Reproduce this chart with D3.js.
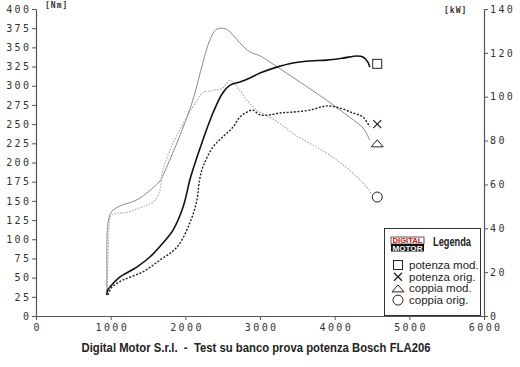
<!DOCTYPE html>
<html>
<head>
<meta charset="utf-8">
<script src="https://cdn.jsdelivr.net/npm/d3@7"></script>
<style>
  body { margin: 0; background: #fff; }
  .tick text { font-family: "DejaVu Sans Mono", monospace; font-size: 10px; fill: #333; letter-spacing: 2.4px; }
  .tick line, .domain { stroke: #555; }
</style>
</head>
<body>
<div id="chart"></div>
<script>
var svgWidth = 520;
var svgHeight = 367;

// rpm / value pairs
var potModRpm = [946, 964, 990, 1125, 1350, 1525, 1700, 1835, 1970, 2060, 2100, 2235, 2370, 2500, 2600, 2730, 2865, 3000, 3225, 3440, 3670, 3895, 4110, 4300, 4380, 4445, 4470];
var potModKw = [9.6, 11.9, 13.2, 17.8, 22.3, 26.9, 33.3, 39.2, 49.7, 62.0, 66.6, 80.3, 92.6, 101.7, 105.3, 106.7, 108.5, 110.8, 113.5, 115.4, 116.3, 116.7, 117.6, 118.6, 118.1, 115.8, 113.5];

var potOrigRpm = [964, 1017, 1165, 1430, 1660, 1890, 2060, 2155, 2190, 2235, 2370, 2500, 2640, 2730, 2825, 2905, 3000, 3130, 3265, 3440, 3670, 3895, 4070, 4245, 4380, 4470];
var potOrigKw = [9.6, 13.2, 16.4, 20.1, 25.5, 31.5, 42.4, 52.9, 62.0, 67.9, 77.1, 81.6, 86.2, 90.7, 93.0, 93.9, 91.7, 91.7, 92.6, 93.0, 93.9, 95.8, 94.8, 92.6, 90.7, 86.2];

var copModRpm = [946, 950, 950, 964, 990, 1030, 1100, 1165, 1300, 1430, 1565, 1660, 1790, 1955, 2100, 2235, 2330, 2410, 2490, 2545, 2600, 2730, 2865, 3000, 3130, 3440, 3895, 4200, 4380, 4470];
var copModNm = [27, 47, 99, 121, 132, 138, 142, 145, 149, 156, 167, 176, 203, 242, 281, 330, 360, 373, 375, 374, 370, 356, 344, 339, 331, 311, 281, 259, 245, 229];

var copOrigRpm = [950, 964, 977, 990, 1017, 1085, 1220, 1390, 1500, 1595, 1660, 1700, 1835, 2020, 2155, 2235, 2370, 2500, 2600, 2730, 2825, 2960, 3130, 3265, 3440, 3895, 4200, 4430, 4500];
var copOrigNm = [27, 73, 112, 128, 132, 134, 135, 141, 145, 151, 164, 190, 225, 259, 281, 291, 294, 297, 307, 294, 281, 268, 259, 251, 238, 212, 190, 168, 158];

// end markers
var markerRpm = 4570;
var markerPotMod = 115;
var markerPotOrig = 87.5;
var markerCopMod = 225;
var markerCopOrig = 155;

var legendLabels = ["potenza mod.", "potenza orig.", "coppia mod.", "coppia orig."];

var rpmTicks = d3.range(0, 6001, 1000);
var nmTicks = d3.range(0, 401, 25);
var kwTicks = d3.range(0, 141, 20);

var svg = d3.select("#chart")
  .append("svg")
  .attr("width", svgWidth)
  .attr("height", svgHeight);

var x = d3.scaleLinear().domain([0, 6000]).range([36, 484]);
var yNm = d3.scaleLinear().domain([0, 400]).range([316, 9]);
var yKw = d3.scaleLinear().domain([0, 140]).range([316, 9]);

// axes
svg.append("g")
  .attr("transform", "translate(36,0)")
  .call(d3.axisLeft(yNm).tickValues(nmTicks).tickFormat(d3.format("d")).tickSize(4).tickSizeOuter(0).tickPadding(3))
  .selectAll("text").attr("dx", "2.4px");

svg.append("g")
  .attr("transform", "translate(484,0)")
  .call(d3.axisRight(yKw).tickValues(kwTicks).tickFormat(d3.format("d")).tickSize(4).tickSizeOuter(0).tickPadding(2));

svg.append("g")
  .attr("transform", "translate(0,316)")
  .call(d3.axisBottom(x).tickValues(rpmTicks).tickFormat(d3.format("d")).tickSize(4).tickSizeOuter(0).tickPadding(4))
  .selectAll("text").attr("dx", "1.2px");

svg.selectAll(".domain").attr("stroke-width", 1.2);

// units
svg.append("text")
  .attr("x", 45).attr("y", 8)
  .style("font-family", "DejaVu Sans Mono").style("font-size", "8px").style("font-weight", "bold")
  .style("letter-spacing", "1px").attr("fill", "#333")
  .text("[Nm]");

svg.append("text")
  .attr("x", 444).attr("y", 13)
  .style("font-family", "DejaVu Sans Mono").style("font-size", "8px").style("font-weight", "bold")
  .style("letter-spacing", "1px").attr("fill", "#333")
  .text("[kW]");

// curves
var lineFn = function(rpm, vals, yScale) {
  return d3.line().x(d => x(d[0])).y(d => yScale(d[1])).curve(d3.curveCatmullRom)(d3.zip(rpm, vals));
};

svg.append("path").attr("d", lineFn(copModRpm, copModNm, yNm))
  .attr("fill", "none").attr("stroke", "#8a8a8a").attr("stroke-width", 1);
svg.append("path").attr("d", lineFn(copOrigRpm, copOrigNm, yNm))
  .attr("fill", "none").attr("stroke", "#a5a5a5").attr("stroke-width", 1.1).attr("stroke-dasharray", "1.5,1.5");
svg.append("path").attr("d", lineFn(potOrigRpm, potOrigKw, yKw))
  .attr("fill", "none").attr("stroke", "#222").attr("stroke-width", 1.4).attr("stroke-dasharray", "2,1.6");
svg.append("path").attr("d", lineFn(potModRpm, potModKw, yKw))
  .attr("fill", "none").attr("stroke", "#111").attr("stroke-width", 1.6);

// marker shapes
function drawMarker(kind, cx, cy) {
  var g = svg.append("g").attr("transform", `translate(${cx},${cy})`)
    .attr("fill", "none").attr("stroke", "#222").attr("stroke-width", 1);
  if (kind === "square") {
    g.append("rect").attr("x", -4.5).attr("y", -4.5).attr("width", 9).attr("height", 9);
  } else if (kind === "cross") {
    g.append("path").attr("d", "M-4,-4L4,4M-4,4L4,-4").attr("stroke-width", 1.3);
  } else if (kind === "triangle") {
    g.append("path").attr("d", "M-6,3.5L0,-3.5L6,3.5Z");
  } else {
    g.append("circle").attr("r", 5);
  }
}

drawMarker("square", x(markerRpm), yKw(markerPotMod));
drawMarker("cross", x(markerRpm), yKw(markerPotOrig));
drawMarker("triangle", x(markerRpm), yNm(markerCopMod));
drawMarker("circle", x(markerRpm), yNm(markerCopOrig));

// legend
var legend = svg.append("g");
legend.append("rect")
  .attr("x", 384.5).attr("y", 228.5).attr("width", 96).attr("height", 87)
  .attr("fill", "#fff").attr("stroke", "#333").attr("stroke-width", 1);

legend.append("rect").attr("x", 391).attr("y", 237).attr("width", 33).attr("height", 7)
  .attr("fill", "#fff").attr("stroke", "#333").attr("stroke-width", 0.8);
legend.append("text").attr("x", 407.5).attr("y", 243).attr("text-anchor", "middle")
  .style("font-family", "Liberation Sans").style("font-size", "7px").style("font-weight", "bold")
  .attr("fill", "#d01010").attr("textLength", 30).attr("lengthAdjust", "spacingAndGlyphs")
  .text("DIGITAL");
legend.append("rect").attr("x", 391).attr("y", 244).attr("width", 33).attr("height", 7.5)
  .attr("fill", "#111");
legend.append("text").attr("x", 407.5).attr("y", 250.8).attr("text-anchor", "middle")
  .style("font-family", "Liberation Sans").style("font-size", "7px").style("font-weight", "bold")
  .attr("fill", "#fff").attr("textLength", 30).attr("lengthAdjust", "spacingAndGlyphs")
  .text("MOTOR");

legend.append("text").attr("x", 433).attr("y", 246)
  .style("font-family", "Liberation Sans").style("font-size", "12px").style("font-weight", "bold")
  .attr("fill", "#222").attr("textLength", 38).attr("lengthAdjust", "spacingAndGlyphs")
  .text("Legenda");

var kinds = ["square", "cross", "triangle", "circle"];
legendLabels.forEach(function(label, i) {
  var cy = 265 + i * 11.7;
  drawMarker(kinds[i], 398, cy);
  legend.append("text")
    .attr("x", 409).attr("y", cy + 4)
    .style("font-family", "Liberation Sans").style("font-size", "11.5px")
    .attr("fill", "#222")
    .text(label);
});

// title
svg.append("text")
  .attr("x", 256).attr("y", 352)
  .attr("text-anchor", "middle")
  .style("white-space", "pre")
  .style("font-family", "Liberation Sans").style("font-size", "13.5px").style("font-weight", "bold")
  .attr("fill", "#222")
  .attr("textLength", 349).attr("lengthAdjust", "spacingAndGlyphs")
  .text("Digital Motor S.r.l.  -  Test su banco prova potenza Bosch FLA206");
</script>
</body>
</html>
